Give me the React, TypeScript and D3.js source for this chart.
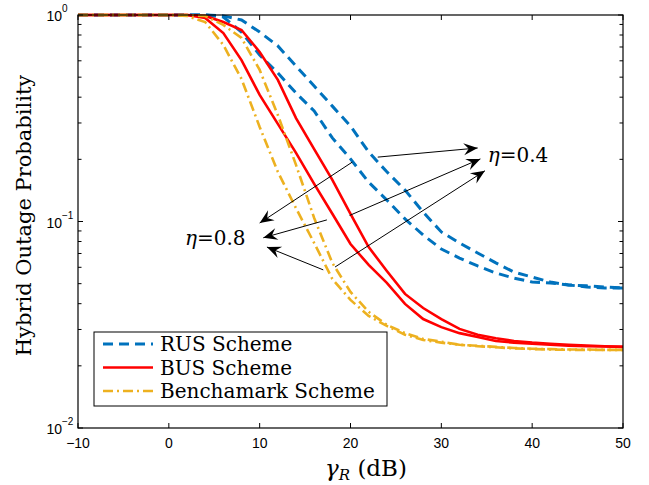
import React from 'react';
import * as d3 from 'd3';

// gamma_R grid (dB)
const snr = [-10, -5, 0, 2, 4, 6, 8, 10, 12, 14, 16, 18, 20, 22, 24, 26, 28, 30, 32, 34, 36, 38, 40, 42, 44, 46, 48, 50];

const rus04 = [1, 1, 1, 1, 1, 0.99, 0.946, 0.827, 0.708, 0.566, 0.453, 0.362, 0.29, 0.217, 0.174, 0.142, 0.111, 0.089, 0.0787, 0.0704, 0.063, 0.0569, 0.0538, 0.0509, 0.0493, 0.0482, 0.0477, 0.0477];
const rus08 = [1, 1, 1, 1, 1, 0.978, 0.827, 0.64, 0.524, 0.419, 0.343, 0.254, 0.201, 0.155, 0.127, 0.103, 0.086, 0.0736, 0.0665, 0.0609, 0.0563, 0.0532, 0.0509, 0.0504, 0.0493, 0.0488, 0.0482, 0.0477];
const bus04 = [1, 1, 1, 1, 0.99, 0.925, 0.846, 0.662, 0.485, 0.317, 0.224, 0.159, 0.109, 0.0752, 0.0576, 0.0446, 0.0381, 0.0337, 0.0302, 0.0283, 0.0272, 0.0264, 0.0259, 0.0256, 0.0253, 0.0251, 0.0249, 0.0247];
const bus08 = [1, 1, 1, 1, 0.967, 0.818, 0.605, 0.41, 0.297, 0.215, 0.152, 0.109, 0.0778, 0.0616, 0.0504, 0.0399, 0.0337, 0.0308, 0.0288, 0.0276, 0.0264, 0.0259, 0.0256, 0.0253, 0.025, 0.0249, 0.0248, 0.0247];
const bench04 = [1, 1, 1, 1, 0.989, 0.895, 0.774, 0.542, 0.328, 0.188, 0.104, 0.063, 0.0456, 0.0365, 0.0316, 0.0288, 0.027, 0.0262, 0.0253, 0.025, 0.0247, 0.0244, 0.0242, 0.0241, 0.024, 0.024, 0.0239, 0.0239];
const bench08 = [1, 1, 1, 0.989, 0.925, 0.716, 0.49, 0.287, 0.174, 0.116, 0.0787, 0.0527, 0.0417, 0.0349, 0.0312, 0.0283, 0.0267, 0.0259, 0.0253, 0.0249, 0.0246, 0.0243, 0.0241, 0.024, 0.0239, 0.0239, 0.0239, 0.0239];

const xTicks = [-10, 0, 10, 20, 30, 40, 50];
const yDecades = [1, 0.1, 0.01];
const yExponents = ['0', '\u22121', '\u22122'];

const legendLabels = ['RUS Scheme', 'BUS Scheme', 'Benchamark Scheme'];

// annotation arrows: [tailX, tailY, headX, headY] in data units
const arrows04 = [
  [23.0, 0.205, 34.0, 0.227],
  [19.9, 0.107, 34.3, 0.201],
  [18.3, 0.0602, 34.8, 0.176],
];
const arrows08 = [
  [20.2, 0.194, 10.0, 0.0983],
  [17.4, 0.1018, 10.4, 0.0834],
  [17.0, 0.0583, 10.8, 0.0752],
];
const etaLabels = [
  { text: '0.4', x: 35.1, y: 0.194 },
  { text: '0.8', x: 1.78, y: 0.077 },
];

const BLUE = '#0072BD';
const RED = '#FF0000';
const YELLOW = '#EDB120';

const W = 649;
const H = 485;
const left = 78, right = 623, top = 15, bottom = 428;

const serif = '"DejaVu Serif", serif';
const sans = '"Liberation Sans", Arial, sans-serif';

const App = () => {
  const x = d3.scaleLinear().domain([-10, 50]).range([left, right]);
  const y = d3.scaleLog().domain([0.01, 1]).range([bottom, top]);

  const line = d3.line<number>()
    .x((_, i) => x(snr[i]))
    .y(d => y(d));

  const series = [
    { data: rus04, color: BLUE, dash: '10,6', width: 3 },
    { data: rus08, color: BLUE, dash: '10,6', width: 3 },
    { data: bus04, color: RED, dash: '', width: 2.6 },
    { data: bus08, color: RED, dash: '', width: 2.6 },
    { data: bench04, color: YELLOW, dash: '10,4,2,4', width: 2.6 },
    { data: bench08, color: YELLOW, dash: '10,4,2,4', width: 2.6 },
  ];
  const legendStyles = [series[0], series[2], series[4]];

  const minorTicks: number[] = [];
  [0.01, 0.1].forEach(d => {
    for (let k = 2; k <= 9; k++) minorTicks.push(d * k);
  });

  const arrowHead = (x1: number, y1: number, x2: number, y2: number) => {
    const a = Math.atan2(y2 - y1, x2 - x1);
    const L = 14, Wd = 6, N = 9;
    const pts = [
      [0, 0], [-L, -Wd], [-N, 0], [-L, Wd],
    ].map(([px, py]) => [
      x2 + px * Math.cos(a) - py * Math.sin(a),
      y2 + px * Math.sin(a) + py * Math.cos(a),
    ]);
    return 'M' + pts.map(p => p.join(',')).join('L') + 'Z';
  };

  const drawArrow = (a: number[], i: number, key: string) => {
    const x1 = x(a[0]), y1 = y(a[1]), x2 = x(a[2]), y2 = y(a[3]);
    return (
      <g key={key + i}>
        <line x1={x1} y1={y1} x2={x2} y2={y2} stroke="#000" strokeWidth={1} />
        <path d={arrowHead(x1, y1, x2, y2)} fill="#000" />
      </g>
    );
  };

  const tickLen = 5;

  return (
    <svg width={W} height={H} style={{ position: 'absolute', left: 0, top: 0 }}>
      <rect width={W} height={H} fill="#fff" />

      {/* curves */}
      <g clipPath="url(#clip)">
        {series.map((s, i) => (
          <path key={i} d={line(s.data) || ''} fill="none" stroke={s.color}
            strokeWidth={s.width} strokeDasharray={s.dash || undefined} />
        ))}
      </g>
      <defs>
        <clipPath id="clip">
          <rect x={left} y={top - 2} width={right - left} height={bottom - top + 2} />
        </clipPath>
      </defs>

      {/* arrows */}
      {arrows04.map((a, i) => drawArrow(a, i, 'a4'))}
      {arrows08.map((a, i) => drawArrow(a, i, 'a8'))}
      {etaLabels.map((l, i) => (
        <text key={i} x={x(l.x)} y={y(l.y)} fontFamily={serif} fontSize={20}>
          <tspan fontStyle="italic">η</tspan>=<tspan>{l.text}</tspan>
        </text>
      ))}

      {/* axes box */}
      <rect x={left} y={top} width={right - left} height={bottom - top} fill="none" stroke="#000" strokeWidth={1.2} />

      {/* x ticks */}
      {xTicks.map(t => (
        <g key={'xt' + t}>
          <line x1={x(t)} x2={x(t)} y1={bottom} y2={bottom - tickLen} stroke="#000" />
          <line x1={x(t)} x2={x(t)} y1={top} y2={top + tickLen} stroke="#000" />
          <text x={x(t)} y={bottom + 20} textAnchor="middle" fontFamily={sans} fontSize={14}>
            {t < 0 ? '\u2212' + Math.abs(t) : t}
          </text>
        </g>
      ))}

      {/* y ticks */}
      {yDecades.map((d, i) => (
        <g key={'yt' + d}>
          <line x1={left} x2={left + tickLen} y1={y(d)} y2={y(d)} stroke="#000" />
          <line x1={right} x2={right - tickLen} y1={y(d)} y2={y(d)} stroke="#000" />
          <text x={62} y={y(d) + 6} textAnchor="end" fontFamily={sans} fontSize={14}>10</text>
          <text x={62} y={y(d) - 3} fontFamily={sans} fontSize={10}>{yExponents[i]}</text>
        </g>
      ))}
      {minorTicks.map(d => (
        <g key={'ym' + d}>
          <line x1={left} x2={left + 3.5} y1={y(d)} y2={y(d)} stroke="#000" />
          <line x1={right} x2={right - 3.5} y1={y(d)} y2={y(d)} stroke="#000" />
        </g>
      ))}

      {/* axis labels */}
      <text x={366} y={476} textAnchor="middle" fontFamily={serif} fontSize={23}>
        <tspan fontStyle="italic">γ</tspan>
        <tspan fontStyle="italic" fontSize={15} dy={4}>R</tspan>
        <tspan dy={-4}> (dB)</tspan>
      </text>
      <text transform={`translate(31,${(top + bottom) / 2 - 6}) rotate(-90)`} textAnchor="middle"
        fontFamily={serif} fontSize={21}>Hybrid Outage Probability</text>

      {/* legend */}
      <rect x={94} y={332} width={293} height={74} fill="#fff" stroke="#000" strokeWidth={1} />
      {legendLabels.map((lab, i) => {
        const ly = 344 + i * 23.5;
        const s = legendStyles[i];
        return (
          <g key={lab}>
            <line x1={103} x2={153} y1={ly} y2={ly} stroke={s.color} strokeWidth={s.width}
              strokeDasharray={s.dash || undefined} />
            <text x={160} y={ly + 7} fontFamily={serif} fontSize={20}>{lab}</text>
          </g>
        );
      })}
    </svg>
  );
};

export default App;
